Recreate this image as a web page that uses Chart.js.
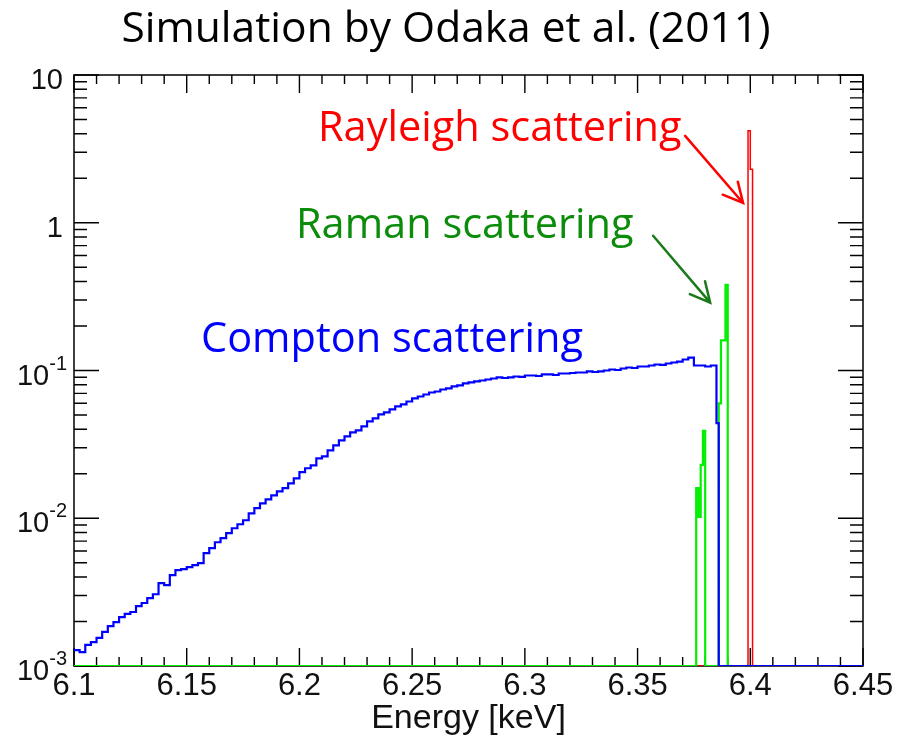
<!DOCTYPE html>
<html>
<head>
<meta charset="utf-8">
<title>Fe K line scattering spectrum</title>
<script src="https://cdn.jsdelivr.net/npm/chart.js@4.4.1/dist/chart.umd.min.js"></script>
<style>
  html, body { margin: 0; padding: 0; background: #fff; }
  canvas { display: block; }
</style>
</head>
<body>
<canvas id="spectrum" width="900" height="743"></canvas>
<script>
// axis ranges (keV, counts per bin)
const X_MIN = 6.1, X_MAX = 6.45;
const Y_MIN = 1e-3, Y_MAX = 10;

const xTickValues = [6.1, 6.15, 6.2, 6.25, 6.3, 6.35, 6.4, 6.45];
const xTickLabels = ['6.1', '6.15', '6.2', '6.25', '6.3', '6.35', '6.4', '6.45'];
const yTickValues = [1e-3, 1e-2, 1e-1, 1, 10];
const yTickLabels = ['10^-3', '10^-2', '10^-1', '1', '10'];

// Compton shoulder, 2.5 eV bins starting at 6.1 keV
const comptonStart = 6.1;
const comptonBinWidth = 0.0025;
const comptonCounts = [
  0.00128, 0.00124, 0.00139, 0.00145, 0.00155, 0.00170, 0.00186, 0.00198, 0.00214, 0.00225,
  0.00232, 0.00254, 0.00267, 0.00288, 0.00306, 0.00364, 0.00353, 0.00412, 0.00445, 0.00452,
  0.00467, 0.00481, 0.00497, 0.00580, 0.00627, 0.00688, 0.00733, 0.00792, 0.00856, 0.00911,
  0.00969, 0.0108, 0.0117, 0.0126, 0.0134, 0.0143, 0.0152, 0.0160, 0.0172, 0.0186,
  0.0205, 0.0218, 0.0228, 0.0254, 0.0262, 0.0288, 0.0311, 0.0337, 0.0358, 0.0381,
  0.0393, 0.0418, 0.0452, 0.0474, 0.0504, 0.0520, 0.0545, 0.0571, 0.0589, 0.0617,
  0.0647, 0.0667, 0.0688, 0.0710, 0.0721, 0.0744, 0.0756, 0.0780, 0.0792, 0.0817,
  0.0830, 0.0843, 0.0856, 0.0869, 0.0883, 0.0897, 0.0890, 0.0897, 0.0911, 0.0905,
  0.0925, 0.0925, 0.0918, 0.0940, 0.0940, 0.0932, 0.0954, 0.0954, 0.0962, 0.0969,
  0.0969, 0.0985, 0.0977, 0.0985, 0.1000, 0.1016, 0.1008, 0.1032, 0.1048, 0.1040,
  0.1064, 0.1064, 0.1081, 0.1098, 0.1090, 0.1115, 0.1133, 0.1150, 0.1187, 0.1224,
  0.1081, 0.1081, 0.1064, 0.1081
];
// last 1 eV bin before the edge
const comptonTailEnergy = [6.385, 6.386];
const comptonTailCounts = [0.044, 0];

// Raman lines (bin lower edges, keV)
const ramanEnergy = [6.1, 6.376, 6.377, 6.378, 6.379, 6.380, 6.386, 6.387, 6.388, 6.389, 6.390];
const ramanCounts = [0, 0.016, 0.0102, 0.023, 0.039, 0, 0.06, 0.16, 0.16, 0.38, 0];

// Rayleigh line
const rayleighEnergy = [6.1, 6.399, 6.400, 6.401];
const rayleighCounts = [0, 4.2, 2.3, 0];

// empty bins sit on the axis floor, like a ROOT histogram
function histPoints(edges, counts) {
  const pts = edges.map((e, i) => ({ x: e, y: Math.max(counts[i], Y_MIN) }));
  pts.push({ x: X_MAX, y: Math.max(counts[counts.length - 1], Y_MIN) });
  return pts;
}

const comptonEdges = comptonCounts.map((_, i) => comptonStart + i * comptonBinWidth);
const comptonPoints = histPoints(
  comptonEdges.concat(comptonTailEnergy),
  comptonCounts.concat(comptonTailCounts)
);

const annotations = [
  { text: 'Rayleigh scattering', color: '#ff0000', x: 318, y: 141 },
  { text: 'Raman scattering', color: '#0b8c0b', x: 296, y: 238 },
  { text: 'Compton scattering', color: '#0000ff', x: 201, y: 352 }
];
// arrows in data coordinates: [x0, y0, x1, y1]
const arrows = [
  { color: '#ff0000', from: [6.3711, 3.87], to: [6.3968, 1.36] },
  { color: '#1a7a1a', from: [6.3569, 0.817], to: [6.3822, 0.288] }
];

// frame with ticks on all four sides
const framePlugin = {
  id: 'frame',
  beforeDatasetsDraw(chart) {
    const { ctx, chartArea: a, scales: { x, y } } = chart;
    ctx.save();
    ctx.strokeStyle = '#000';
    ctx.lineWidth = 1.5;
    ctx.strokeRect(a.left, a.top, a.right - a.left, a.bottom - a.top);
    ctx.lineWidth = 1.4;
    ctx.beginPath();
    for (let k = 0; k <= 35; k++) {
      const px = x.getPixelForValue(X_MIN + k * 0.01);
      const len = k % 5 === 0 ? 18 : 9;
      ctx.moveTo(px, a.bottom); ctx.lineTo(px, a.bottom - len);
      ctx.moveTo(px, a.top); ctx.lineTo(px, a.top + len);
    }
    for (let d = -3; d <= 1; d++) {
      for (let m = 1; m <= 9; m++) {
        const v = m * Math.pow(10, d);
        if (v > Y_MAX * 1.0001) break;
        const py = y.getPixelForValue(v);
        const len = m === 1 ? 25 : 13;
        ctx.moveTo(a.left, py); ctx.lineTo(a.left + len, py);
        ctx.moveTo(a.right, py); ctx.lineTo(a.right - len, py);
      }
    }
    ctx.stroke();
    ctx.restore();
  }
};

const labelPlugin = {
  id: 'labels',
  afterDraw(chart) {
    const { ctx, chartArea: a, scales: { x, y } } = chart;
    ctx.save();
    ctx.fillStyle = '#111';

    // x tick labels
    ctx.font = '31px "Liberation Sans", Arial, sans-serif';
    ctx.textAlign = 'center';
    ctx.textBaseline = 'alphabetic';
    xTickValues.forEach((v, i) => {
      ctx.fillText(xTickLabels[i], x.getPixelForValue(v), a.bottom + 29);
    });

    // y tick labels, exponent as superscript
    ctx.textAlign = 'right';
    yTickValues.forEach((v, i) => {
      const py = y.getPixelForValue(v);
      const [base, exp] = yTickLabels[i].split('^');
      if (exp) {
        ctx.font = '20px "Liberation Sans", Arial, sans-serif';
        const expW = ctx.measureText(exp).width;
        ctx.fillText(exp, a.left - 7, py - 1);
        ctx.font = '29px "Liberation Sans", Arial, sans-serif';
        ctx.fillText(base, a.left - 7 - expW, py + 14);
      } else {
        ctx.font = '29px "Liberation Sans", Arial, sans-serif';
        ctx.fillText(base, a.left - 11, py + 14);
      }
    });

    // axis title
    ctx.textAlign = 'center';
    ctx.font = '34px "Liberation Sans", Arial, sans-serif';
    ctx.fillText('Energy [keV]', (a.left + a.right) / 2, a.bottom + 62);

    // heading
    ctx.fillStyle = '#000';
    ctx.font = '42.5px "Open Sans", Lato, sans-serif';
    ctx.fillText('Simulation by Odaka et al. (2011)', 446, 42);

    // line labels
    ctx.textAlign = 'left';
    ctx.font = '41.5px "Open Sans", Lato, sans-serif';
    annotations.forEach(t => {
      ctx.fillStyle = t.color;
      ctx.fillText(t.text, t.x, t.y);
    });

    // arrows pointing at the lines
    arrows.forEach(ar => {
      const x0 = x.getPixelForValue(ar.from[0]), y0 = y.getPixelForValue(ar.from[1]);
      const x1 = x.getPixelForValue(ar.to[0]), y1 = y.getPixelForValue(ar.to[1]);
      const ang = Math.atan2(y1 - y0, x1 - x0);
      const head = 22, spread = 0.47;
      ctx.strokeStyle = ar.color;
      ctx.lineWidth = 2.5;
      ctx.lineCap = 'round';
      ctx.beginPath();
      ctx.moveTo(x0, y0);
      ctx.lineTo(x1, y1);
      ctx.moveTo(x1 - head * Math.cos(ang - spread), y1 - head * Math.sin(ang - spread));
      ctx.lineTo(x1, y1);
      ctx.lineTo(x1 - head * Math.cos(ang + spread), y1 - head * Math.sin(ang + spread));
      ctx.stroke();
    });
    ctx.restore();
  }
};

const histStyle = { stepped: 'before', pointRadius: 0, fill: false, tension: 0 };

new Chart(document.getElementById('spectrum').getContext('2d'), {
  type: 'line',
  data: {
    datasets: [
      Object.assign({ label: 'Compton scattering', data: comptonPoints,
        borderColor: '#0000ff', borderWidth: 2.2 }, histStyle),
      Object.assign({ label: 'Raman scattering', data: histPoints(ramanEnergy, ramanCounts),
        borderColor: '#00f000', borderWidth: 2.2 }, histStyle),
      Object.assign({ label: 'Rayleigh scattering', data: histPoints(rayleighEnergy, rayleighCounts),
        borderColor: '#ff0000', borderWidth: 1.5 }, histStyle)
    ]
  },
  options: {
    responsive: false,
    animation: false,
    events: [],
    layout: { padding: { left: 74, top: 75, right: 37, bottom: 77 } },
    plugins: { legend: { display: false }, tooltip: { enabled: false } },
    scales: {
      x: { type: 'linear', min: X_MIN, max: X_MAX, display: false },
      y: { type: 'logarithmic', min: Y_MIN, max: Y_MAX, display: false }
    }
  },
  plugins: [framePlugin, labelPlugin]
});
</script>
</body>
</html>
